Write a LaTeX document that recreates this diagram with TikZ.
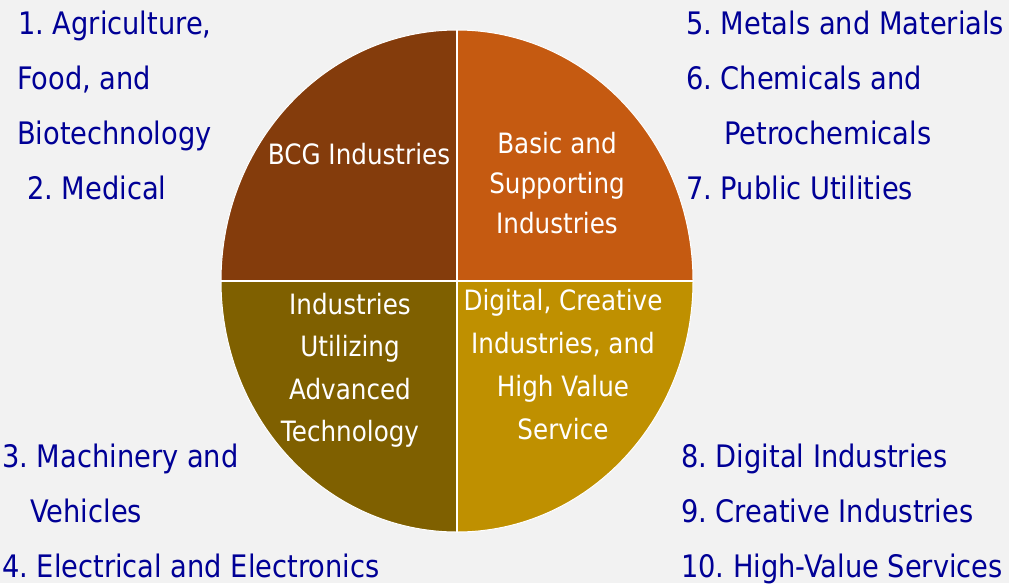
\documentclass[tikz,border=0pt]{standalone}
\usepackage{fontspec}
\setmainfont{DejaVu Sans}[FakeStretch=0.88]
\usetikzlibrary{shapes.geometric}
\definecolor{bgGray}{HTML}{F2F2F2}
\definecolor{bcgBrown}{HTML}{843C0C}
\definecolor{basicOrange}{HTML}{C55A11}
\definecolor{advOlive}{HTML}{7F6000}
\definecolor{digiGold}{HTML}{BF9000}
\definecolor{listBlue}{RGB}{0,0,150}
\frenchspacing

\begin{document}
\begin{tikzpicture}[
  x=1pt, y=-1pt,
  quad/.style={text=white, align=center, inner sep=0pt, anchor=north,
    font=\fontsize{28}{42.5}\selectfont},
  list/.style={text=listBlue, align=left, inner sep=0pt, anchor=north west,
    font=\fontsize{31}{55}\selectfont},
  sep/.style={white, line width=2.5pt}
]
\fill[bgGray] (0,0) rectangle (1009,583);

% the wheel, four quarters
\node[ellipse, draw=white, line width=1pt, minimum width=472pt, minimum height=502pt,
  inner sep=0pt, outer sep=0pt,
  path picture={
    \fill[bcgBrown] (path picture bounding box.north west) rectangle (path picture bounding box.center);
    \fill[basicOrange] (path picture bounding box.north east) rectangle (path picture bounding box.center);
    \fill[advOlive] (path picture bounding box.south west) rectangle (path picture bounding box.center);
    \fill[digiGold] (path picture bounding box.south east) rectangle (path picture bounding box.center);
  }] (wheel) at (457,281) {};
\draw[sep] (wheel.north) -- (wheel.south);
\draw[sep] (wheel.west) -- (wheel.east);

\node[quad] (bcg) at (359,143) {BCG Industries};
\node[quad, font=\fontsize{28}{40}\selectfont] (basic) at (557,132) {Basic and\\Supporting\\Industries};
\node[quad] (adv) at (350,293) {Industries\\Utilizing\\Advanced\\Technology};
\node[quad, font=\fontsize{28}{43}\selectfont] (digi) at (563,289) {Digital, Creative\\Industries, and\\High Value\\Service};

% sector lists
\node[list] (bcgList) at (17,11) {\hspace*{1pt}1. Agriculture,\\Food, and\\Biotechnology\\\hspace*{10pt}2. Medical};
\node[list] (basicList) at (686,11) {5. Metals and Materials\\6. Chemicals and\\\hspace*{38pt}Petrochemicals\\7. Public Utilities};
\node[list] (advList) at (2,444) {3. Machinery and\\\hspace*{28pt}Vehicles\\4. Electrical and Electronics};
\node[list] (digiList) at (681,444) {8. Digital Industries\\9. Creative Industries\\10. High-Value Services};
\end{tikzpicture}
\end{document}
